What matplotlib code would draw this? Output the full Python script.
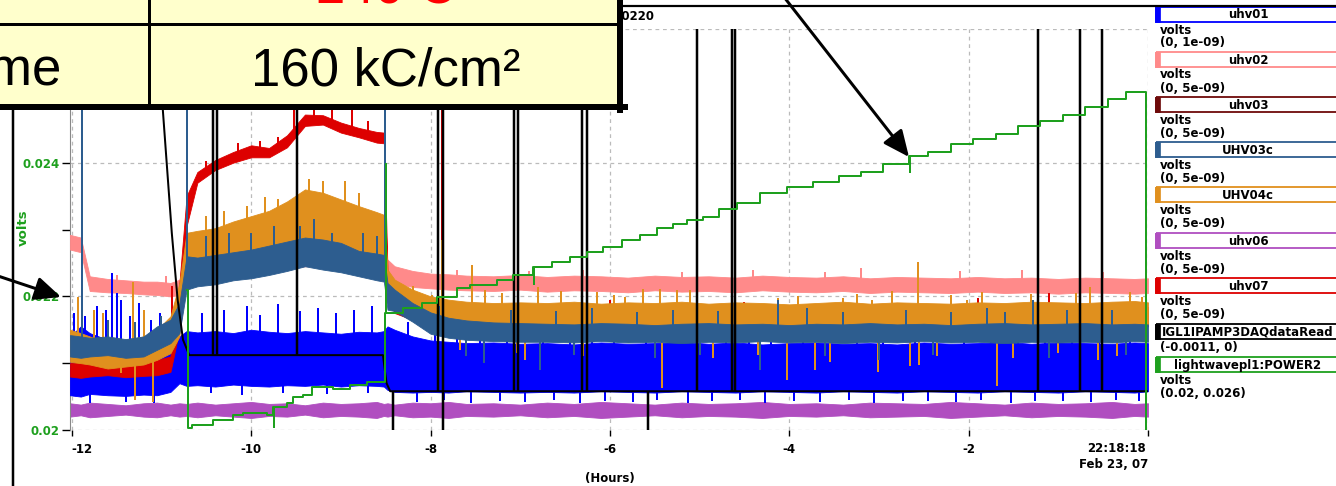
import numpy as np
import matplotlib
matplotlib.use("Agg")
import matplotlib.pyplot as plt
from matplotlib.patches import Rectangle

plt.rcParams['font.family'] = ['Liberation Sans', 'DejaVu Sans']
plt.rcParams['axes.unicode_minus'] = False

W, H = 1336, 486

# hours before 22:18:18 Feb 23, 07 ; all signal levels in mV on the 0.02-0.026 V scale
t_band = [-12.02, -11.9, -11.8, -11.6, -11.4, -11.2, -11.05, -10.9, -10.8, -10.72,
          -10.6, -10.4, -10.2, -10.0, -9.8, -9.6, -9.4, -9.2, -9.0, -8.8,
          -8.6, -8.52, -8.48, -8.4, -8.2, -8.0, -7.8, -7.6, -7.3, -7.0,
          -6.7, -6.4, -6.1, -5.8, -5.5, -5.2, -4.9, -4.6, -4.3, -4.0,
          -3.7, -3.4, -3.1, -2.8, -2.5, -2.2, -1.9, -1.6, -1.3, -1.0,
          -0.7, -0.4, -0.15, 0.0]

uhv06_hi = [20.40, 20.38, 20.41, 20.39, 20.37, 20.40, 20.41, 20.38, 20.40, 20.39,
            20.41, 20.38, 20.40, 20.42, 20.39, 20.40, 20.37, 20.41, 20.39, 20.40,
            20.42, 20.39, 20.40, 20.38, 20.41, 20.40, 20.42, 20.39, 20.40, 20.38,
            20.41, 20.39, 20.42, 20.40, 20.38, 20.41, 20.39, 20.40, 20.42, 20.39,
            20.40, 20.38, 20.41, 20.40, 20.39, 20.42, 20.40, 20.38, 20.41, 20.39,
            20.40, 20.42, 20.39, 20.40]
uhv06_lo = [20.20, 20.22, 20.19, 20.21, 20.23, 20.20, 20.19, 20.22, 20.20, 20.21,
            20.19, 20.22, 20.20, 20.18, 20.21, 20.20, 20.23, 20.19, 20.21, 20.20,
            20.18, 20.21, 20.20, 20.22, 20.19, 20.20, 20.18, 20.21, 20.20, 20.22,
            20.19, 20.21, 20.18, 20.20, 20.22, 20.19, 20.21, 20.20, 20.18, 20.21,
            20.20, 20.22, 20.19, 20.20, 20.21, 20.18, 20.20, 20.22, 20.19, 20.21,
            20.20, 20.18, 20.21, 20.20]

uhv02_hi = [22.92, 22.88, 22.30, 22.26, 22.24, 22.22, 22.22, 22.20, 22.25, 22.55,
            22.58, 22.60, 22.62, 22.64, 22.66, 22.68, 22.70, 22.70, 22.68, 22.66,
            22.64, 22.62, 22.55, 22.45, 22.38, 22.34, 22.33, 22.31, 22.30, 22.32,
            22.29, 22.31, 22.30, 22.28, 22.31, 22.29, 22.30, 22.28, 22.31, 22.29,
            22.28, 22.30, 22.27, 22.29, 22.28, 22.27, 22.29, 22.27, 22.28, 22.26,
            22.28, 22.27, 22.26, 22.27]
uhv02_lo = [22.70, 22.66, 22.08, 22.06, 22.05, 22.03, 22.02, 22.00, 22.02, 22.30,
            22.33, 22.36, 22.38, 22.40, 22.41, 22.43, 22.45, 22.45, 22.43, 22.41,
            22.39, 22.38, 22.30, 22.20, 22.14, 22.12, 22.10, 22.09, 22.08, 22.10,
            22.07, 22.09, 22.08, 22.06, 22.09, 22.07, 22.08, 22.06, 22.09, 22.07,
            22.06, 22.08, 22.05, 22.07, 22.06, 22.05, 22.07, 22.05, 22.06, 22.04,
            22.06, 22.05, 22.04, 22.05]
uhv02_spk_t = [-11.89, -11.5, -10.95, -7.7, -6.9, -6.3, -5.2, -4.4, -3.6, -3.2, -2.1, -1.4, -0.5]
uhv02_spk_v = [26.0, 22.32, 22.30, 22.40, 22.38, 22.40, 22.37, 22.39, 22.36, 22.42, 22.38, 22.40, 22.37]

uhv01_hi = [21.40, 21.55, 21.45, 21.35, 21.30, 21.32, 21.38, 21.30, 21.40, 21.48,
            21.46, 21.48, 21.45, 21.50, 21.47, 21.45, 21.48, 21.46, 21.44, 21.47,
            21.46, 21.48, 21.55, 21.50, 21.40, 21.34, 21.32, 21.30, 21.31, 21.29,
            21.30, 21.28, 21.31, 21.29, 21.30, 21.32, 21.29, 21.31, 21.28, 21.30,
            21.31, 21.29, 21.30, 21.28, 21.31, 21.29, 21.30, 21.32, 21.29, 21.31,
            21.30, 21.29, 21.31, 21.30]
uhv01_lo = [20.52, 20.50, 20.54, 20.52, 20.51, 20.53, 20.52, 20.57, 20.70, 20.66,
            20.67, 20.65, 20.68, 20.66, 20.65, 20.67, 20.66, 20.68, 20.65, 20.67,
            20.66, 20.65, 20.60, 20.57, 20.56, 20.57, 20.56, 20.58, 20.57, 20.56,
            20.57, 20.56, 20.58, 20.57, 20.56, 20.58, 20.57, 20.56, 20.58, 20.57,
            20.56, 20.58, 20.57, 20.56, 20.58, 20.57, 20.56, 20.58, 20.57, 20.56,
            20.58, 20.57, 20.56, 20.58]
uhv01_spk_t = [-11.98, -11.93, -11.85, -11.72, -11.62, -11.55, -11.50, -11.45, -11.35, -11.25,
               -11.12, -11.02, -10.55, -10.30, -10.05, -9.90, -9.70, -9.45, -9.25, -9.05,
               -8.85, -8.65, -8.25, -7.95, -7.70, -7.45, -7.15, -6.75, -6.45, -6.20,
               -5.95, -5.60, -5.30, -5.00, -4.70, -4.45, -4.20, -3.85, -3.60, -3.25,
               -2.95, -2.60, -2.35, -2.05, -1.75, -1.45, -1.15, -0.85, -0.55, -0.20,
               -11.80, -11.40, -11.08, -10.45, -10.10, -9.65, -9.15, -8.70, -8.15, -7.85,
               -7.55, -7.22, -6.95, -6.62, -6.33, -6.05, -5.74, -5.47, -5.13, -4.86,
               -4.55, -4.27, -3.95, -3.66, -3.33, -3.05, -2.73, -2.45, -2.14, -1.86,
               -1.53, -1.26, -0.95, -0.64, -0.36, -0.10]
uhv01_spk_v = [21.75, 21.90, 21.70, 21.85, 21.80, 22.35, 22.05, 21.95, 21.70, 21.90,
               21.65, 21.75, 21.75, 21.80, 21.85, 21.72, 21.88, 21.78, 21.82, 21.75,
               21.80, 21.85, 21.62, 21.55, 21.50, 21.48, 21.52, 21.45, 21.50, 21.55,
               21.47, 21.52, 21.45, 21.50, 21.48, 21.55, 21.46, 21.50, 21.45, 21.52,
               21.48, 21.50, 21.45, 21.52, 21.48, 21.50, 21.46, 21.53, 21.47, 21.50,
               20.40, 20.42, 20.41, 20.55, 20.53, 20.56, 20.54, 20.55, 20.42, 20.45,
               20.41, 20.44, 20.42, 20.45, 20.41, 20.44, 20.42, 20.45, 20.41, 20.43,
               20.45, 20.41, 20.44, 20.42, 20.45, 20.41, 20.43, 20.44, 20.42, 20.45,
               20.41, 20.43, 20.44, 20.42, 20.45, 20.43]

uhv07_hi = [21.00, 21.02, 20.98, 21.02, 21.00, 21.03, 21.05, 21.10, 22.20, 23.50,
            23.86, 24.04, 24.16, 24.26, 24.22, 24.41, 24.72, 24.71, 24.60, 24.52,
            24.46, 24.45, 22.40, 22.10, 21.95, 21.85, 21.82, 21.80, 21.78, 21.80,
            21.79, 21.81, 21.78, 21.80, 21.82, 21.79, 21.81, 21.80, 21.78, 21.81,
            21.80, 21.82, 21.79, 21.81, 21.83, 21.80, 21.82, 21.84, 21.81, 21.83,
            21.84, 21.82, 21.85, 21.84]
uhv07_lo = [20.80, 20.78, 20.80, 20.82, 20.79, 20.81, 20.82, 20.87, 21.50, 23.05,
            23.70, 23.89, 24.00, 24.08, 24.08, 24.23, 24.55, 24.57, 24.45, 24.38,
            24.30, 24.29, 22.00, 21.75, 21.65, 21.55, 21.52, 21.50, 21.50, 21.52,
            21.51, 21.52, 21.50, 21.51, 21.53, 21.50, 21.52, 21.51, 21.50, 21.52,
            21.51, 21.53, 21.50, 21.52, 21.54, 21.51, 21.53, 21.55, 21.52, 21.54,
            21.55, 21.53, 21.56, 21.55]
uhv07_spk_t = [-10.88, -9.52, -8.88, -8.51, -7.87, -6.00, -4.50, -1.90, -1.10,
               -10.5, -10.15, -9.9, -9.7, -9.3, -9.1, -8.7]
uhv07_spk_v = [22.15, 26.0, 26.0, 26.0, 26.0, 21.95, 21.92, 21.98, 22.05,
               24.02, 24.30, 24.32, 24.38, 24.85, 24.80, 24.62]

uhv04c_hi = [21.50, 21.45, 21.40, 21.30, 21.35, 21.40, 21.50, 21.70, 22.20, 22.95,
             22.98, 23.02, 23.12, 23.20, 23.28, 23.42, 23.60, 23.55, 23.45, 23.35,
             23.26, 23.22, 22.40, 22.25, 22.10, 22.00, 21.95, 21.92, 21.90, 21.91,
             21.90, 21.92, 21.89, 21.91, 21.90, 21.92, 21.89, 21.91, 21.90, 21.88,
             21.90, 21.92, 21.89, 21.91, 21.90, 21.89, 21.91, 21.90, 21.92, 21.91,
             21.90, 21.92, 21.93, 21.91]
uhv04c_lo = [21.02, 21.00, 20.98, 20.92, 20.95, 20.98, 21.05, 21.15, 21.40, 22.45,
             22.48, 22.50, 22.55, 22.60, 22.64, 22.72, 22.80, 22.80, 22.74, 22.66,
             22.60, 22.58, 21.90, 21.80, 21.70, 21.62, 21.58, 21.56, 21.55, 21.56,
             21.56, 21.58, 21.55, 21.57, 21.56, 21.58, 21.55, 21.57, 21.56, 21.54,
             21.56, 21.58, 21.55, 21.57, 21.56, 21.55, 21.57, 21.56, 21.58, 21.57,
             21.56, 21.58, 21.59, 21.57]
uhv04c_spk_t = [-11.93, -11.75, -11.32, -11.30, -11.10, -10.50, -9.70, -9.35, -8.95, -8.51,
                -7.87, -7.67, -7.54, -7.39, -7.04, -6.80, -6.14, -5.83, -5.63, -5.44,
                -5.42, -5.11, -4.13, -4.02, -3.71, -3.69, -3.40, -3.08, -3.01, -2.65,
                -2.57, -2.55, -2.02, -1.68, -0.65, -0.56, -0.07,
                -11.65, -11.45, -11.2, -10.3, -10.05, -9.85, -9.2, -8.8, -8.2, -7.98,
                -7.2, -6.95, -6.55, -6.3, -5.95, -5.25, -4.85, -4.6, -4.35, -3.9,
                -3.55, -3.25, -2.85, -2.35, -2.2, -1.85, -1.5, -1.3, -1.0, -0.8, -0.35, -0.2]
uhv04c_spk_v = [21.99, 21.80, 22.21, 20.45, 20.42, 23.20, 23.45, 23.75, 23.72, 26.0,
                22.85, 21.20, 22.47, 22.09, 21.15, 22.14, 22.06, 21.99, 22.11, 22.11,
                20.63, 22.09, 21.97, 20.75, 20.90, 21.88, 21.97, 21.95, 20.87, 20.96,
                22.51, 20.98, 21.95, 20.66, 22.14, 21.05, 21.99,
                21.75, 20.85, 21.80, 23.28, 23.35, 23.48, 23.72, 23.55, 22.15, 22.02,
                22.05, 21.05, 22.08, 21.10, 22.02, 22.10, 21.08, 22.05, 21.12, 22.00,
                21.02, 22.04, 22.08, 21.10, 22.02, 22.06, 21.08, 22.03, 21.15, 22.05, 21.10, 22.07]

uhv03c_hi = [21.42, 21.40, 21.38, 21.40, 21.36, 21.40, 21.55, 21.65, 21.90, 22.60,
             22.58, 22.62, 22.66, 22.70, 22.76, 22.82, 22.88, 22.85, 22.80, 22.68,
             22.64, 22.62, 22.20, 22.10, 21.90, 21.76, 21.68, 21.64, 21.61, 21.60,
             21.59, 21.58, 21.60, 21.59, 21.57, 21.59, 21.60, 21.58, 21.59, 21.57,
             21.59, 21.58, 21.60, 21.58, 21.59, 21.57, 21.59, 21.60, 21.58, 21.59,
             21.60, 21.58, 21.59, 21.58]
uhv03c_lo = [21.10, 21.08, 21.10, 21.12, 21.08, 21.10, 21.20, 21.30, 21.45, 22.10,
             22.15, 22.18, 22.24, 22.27, 22.32, 22.38, 22.45, 22.40, 22.36, 22.30,
             22.24, 22.22, 21.80, 21.78, 21.62, 21.44, 21.38, 21.35, 21.33, 21.32,
             21.32, 21.31, 21.33, 21.31, 21.32, 21.30, 21.32, 21.31, 21.33, 21.31,
             21.32, 21.30, 21.32, 21.31, 21.33, 21.31, 21.32, 21.30, 21.32, 21.31,
             21.32, 21.31, 21.33, 21.32]
uhv03c_spk_t = [-11.89, -10.72, -8.51, -10.00, -9.46, -9.10, -11.60, -4.13, -1.59, -1.28,
                -6.78, -4.33, -7.40, -3.00,
                -10.5, -10.25, -9.75, -9.3, -8.75, -8.6, -11.3, -11.0,
                -7.9, -7.1, -6.6, -6.2, -5.7, -5.3, -4.8, -3.8, -3.4, -2.7, -2.2, -1.8, -0.9, -0.4,
                -7.6, -6.4, -5.5, -5.0, -3.6, -2.4, -1.1, -0.25]
uhv03c_spk_v = [26.0, 26.0, 26.0, 22.95, 23.05, 22.95, 21.65, 21.95, 21.77, 21.95,
                20.90, 20.90, 21.00, 21.05,
                22.90, 22.95, 23.05, 23.15, 22.95, 22.90, 21.62, 21.70,
                21.85, 21.80, 21.78, 21.82, 21.76, 21.80, 21.78, 21.82, 21.77, 21.80, 21.76, 21.82, 21.79, 21.80,
                21.10, 21.12, 21.08, 21.12, 21.10, 21.12, 21.08, 21.12]

# IGL1IPAMP3DAQdataRead
daq_t = [-12.02, -11.07, -10.985, -10.885, -10.82, -10.76, -10.69, -8.53, -8.51, -8.49, -8.45, 0.0]
daq_v = [27.5, 26.0, 24.79, 22.95, 21.95, 21.35, 21.12, 21.12, 20.90, 20.70, 20.58, 20.58]
daq_glitch_up = [-10.43, -10.38, -9.49, -7.92, -7.86, -7.07, -7.03, -6.31, -6.25, -5.03,
                 -4.64, -4.61, -1.23, -0.76, -0.51]
daq_glitch_down = [-8.42, -7.86, -5.58]

# lightwavepl1:POWER2
power_t = [-10.72, -10.70, -10.66, -10.43, -10.20, -10.09, -9.82, -9.76, -9.60, -9.53,
           -9.42, -9.32, -9.09, -8.90, -8.71, -8.51, -8.31, -8.10, -7.93, -7.71,
           -7.56, -7.26, -7.08, -6.86, -6.64, -6.45, -6.26, -6.08, -5.86, -5.66,
           -5.48, -5.30, -5.14, -4.96, -4.78, -4.58, -4.33, -4.03, -3.74, -3.45,
           -3.20, -2.95, -2.66, -2.45, -2.20, -1.95, -1.70, -1.45, -1.20, -0.95,
           -0.70, -0.45, -0.25, -0.02, 0.0]
power_v = [22.09, 20.03, 20.07, 20.15, 20.22, 20.25, 20.22, 20.34, 20.40, 20.49,
           20.52, 20.64, 20.61, 20.67, 20.72, 21.75, 21.82, 21.90, 21.99, 22.12,
           22.17, 22.24, 22.32, 22.44, 22.51, 22.59, 22.66, 22.74, 22.84, 22.92,
           23.02, 23.08, 23.14, 23.19, 23.30, 23.40, 23.55, 23.64, 23.71, 23.80,
           23.86, 23.98, 24.10, 24.16, 24.28, 24.35, 24.43, 24.55, 24.62, 24.72,
           24.84, 24.95, 25.05, 19.90, 19.90]
power_spk_t = [-9.75, -8.50, -6.85, -2.65]
power_spk_v = [20.03, 24.00, 22.17, 23.85]

x_ticks = [-12, -10, -8, -6, -4, -2, 0]
x_labels = ['-12', '-10', '-8', '-6', '-4', '-2', '']
y_ticks = [0.020, 0.022, 0.024, 0.026]
y_labels = ['0.02', '0.022', '0.024', '0.026']
y_minor = [0.021, 0.023, 0.025]

leg_names = ['uhv01', 'uhv02', 'uhv03', 'UHV03c', 'UHV04c', 'uhv06', 'uhv07',
             'IGL1IPAMP3DAQdataRead', 'lightwavepl1:POWER2']
leg_units = ['volts'] * 7 + [None, 'volts']
leg_ranges = ['(0, 1e-09)', '(0, 5e-09)', '(0, 5e-09)', '(0, 5e-09)', '(0, 5e-09)',
              '(0, 5e-09)', '(0, 5e-09)', '(-0.0011, 0)', '(0.02, 0.026)']

BLUE, PINK, DKRED, STEEL = '#0000FF', '#FF8A8A', '#6E0A0A', '#2D5D8F'
ORANGE, PURPLE, RED, GREEN = '#E0901E', '#B04EC0', '#DD0000', '#1EA01E'
leg_colors = [BLUE, PINK, DKRED, STEEL, ORANGE, PURPLE, RED, 'black', GREEN]


def pt(p):
    return p * 0.72


def band(ax, hi, lo, color, z, spk_t=None, spk_v=None):
    hi = np.array(hi) / 1000.0
    lo = np.array(lo) / 1000.0
    ax.fill_between(t_band, lo, hi, facecolor=color, edgecolor=color, lw=0.6, zorder=z)
    if spk_t:
        base = np.interp(spk_t, t_band, (hi + lo) / 2)
        ax.vlines(spk_t, base, np.array(spk_v) / 1000.0, colors=color, lw=pt(2), zorder=z)


fig = plt.figure(figsize=(W / 100, H / 100), dpi=100)
ax = fig.add_axes([70 / W, 1 - 430 / H, (1148 - 70) / W, (430 - 29) / H])
ax.set_xlim(-12.02, 0)
ax.set_ylim(0.020, 0.026)

band(ax, uhv06_hi, uhv06_lo, PURPLE, 2)
band(ax, uhv02_hi, uhv02_lo, PINK, 3, uhv02_spk_t, uhv02_spk_v)
band(ax, uhv01_hi, uhv01_lo, BLUE, 4, uhv01_spk_t, uhv01_spk_v)
band(ax, uhv07_hi, uhv07_lo, RED, 5, uhv07_spk_t, uhv07_spk_v)
band(ax, uhv04c_hi, uhv04c_lo, ORANGE, 6, uhv04c_spk_t, uhv04c_spk_v)
band(ax, uhv03c_hi, uhv03c_lo, STEEL, 7, uhv03c_spk_t, uhv03c_spk_v)

daq_v_V = np.array(daq_v) / 1000.0
ax.plot(daq_t, daq_v_V, color='black', lw=pt(2), zorder=8)
ax.vlines(daq_glitch_up, np.interp(daq_glitch_up, daq_t, daq_v_V), 0.0265,
          colors='black', lw=pt(2.5), zorder=8)
ax.vlines(daq_glitch_down, np.interp(daq_glitch_down, daq_t, daq_v_V), 0.0195,
          colors='black', lw=pt(2.5), zorder=8)

power_v_V = np.array(power_v) / 1000.0
ax.plot(power_t, power_v_V, drawstyle='steps-post', color=GREEN, lw=pt(2), zorder=9)
idx = np.searchsorted(power_t, power_spk_t, side='right') - 1
ax.vlines(power_spk_t, power_v_V[idx], np.array(power_spk_v) / 1000.0,
          colors=GREEN, lw=pt(2), zorder=9)

# axes styling
CHART_FONT = dict(family='DejaVu Sans', weight='bold', size=8.5)
for s in ax.spines.values():
    s.set_visible(False)
ax.spines['left'].set_visible(True)
ax.spines['left'].set_color('#888888')
ax.set_xticks(x_ticks)
ax.set_xticklabels(x_labels, fontdict=CHART_FONT)
ax.set_yticks(y_ticks)
ax.set_yticklabels(y_labels, fontdict=CHART_FONT)
ax.set_yticks(y_minor, minor=True)
ax.grid(True, which='major', color='#BBBBBB', ls=(0, (3, 3)), lw=0.9, zorder=0)
ax.set_axisbelow(True)
ax.tick_params(axis='x', length=pt(6), width=1, pad=5, colors='black')
ax.tick_params(axis='y', which='both', length=pt(8), width=1, pad=1.5,
               color='black', labelcolor=GREEN)
ax.get_xticklabels()[0].set_horizontalalignment('left')

# overlay in pixel coordinates
ov = fig.add_axes([0, 0, 1, 1])
ov.set_xlim(0, W)
ov.set_ylim(H, 0)
ov.axis('off')
ov.patch.set_alpha(0)

ov.text(23, 228, 'volts', rotation=90, color=GREEN, ha='center', va='center',
        fontdict=dict(CHART_FONT, size=9.5))
ov.text(610, 478, '(Hours)', ha='center', va='center', fontdict=CHART_FONT)
ov.text(1146, 448, '22:18:18', ha='right', va='center', fontdict=CHART_FONT)
ov.text(1148, 464, 'Feb 23, 07', ha='right', va='center', fontdict=CHART_FONT)
ov.plot([620, W], [6, 6], color='black', lw=pt(2.2))
ov.text(654, 17, '20070220', ha='right', va='center', zorder=1, fontdict=CHART_FONT)

# legend panel
leg_top = [7, 52, 97, 142, 187, 233, 278, 324, 357]
for i, name in enumerate(leg_names):
    top = leg_top[i]
    c = leg_colors[i]
    ov.add_patch(Rectangle((1156, top), 200, 15, fill=False, edgecolor=c, lw=1.3))
    ov.add_patch(Rectangle((1155, top), 5, 15, facecolor=c, edgecolor=c, lw=0.5))
    if len(name) > 20:
        ov.text(1162, top + 8, name, ha='left', va='center', fontdict=CHART_FONT)
    else:
        ov.text(1248, top + 8, name, ha='center', va='center', fontdict=CHART_FONT)
    y = top + 23
    if leg_units[i]:
        ov.text(1160, y, leg_units[i], ha='left', va='center', fontdict=CHART_FONT)
        y += 13
    ov.text(1160, y, leg_ranges[i], ha='left', va='center', fontdict=CHART_FONT)

# slide table overlay
ov.add_patch(Rectangle((0, 0), 620, 107, facecolor='#FFFFCC', edgecolor='none', zorder=10))
ov.plot([0, 620], [24.5, 24.5], color='black', lw=pt(3), zorder=11)
ov.plot([149, 149], [0, 107], color='black', lw=pt(3), zorder=11)
ov.plot([0, 625], [107, 107], color='black', lw=pt(6), zorder=11)
ov.plot([620, 620], [0, 110], color='black', lw=pt(6), zorder=11)
ov.plot([13, 13], [107, H], color='black', lw=pt(2.5), zorder=11)
ov.text(386, 3, '240 C', color='red', fontsize=38, ha='center', va='baseline', zorder=12)
ov.text(61, 85, 'Charge Lifetime', fontsize=38, ha='right', va='baseline', zorder=12)
ov.text(386, 85, '160 kC/cm\u00b2', fontsize=38, ha='center', va='baseline', zorder=12)

arrow = dict(arrowstyle='-|>,head_length=1.0,head_width=0.45', color='black',
             lw=pt(3), mutation_scale=16, shrinkA=0, shrinkB=0)
ov.annotate('', xy=(909, 157), xytext=(784, -3), arrowprops=arrow, zorder=13)
ov.annotate('', xy=(61, 297), xytext=(-2, 276), arrowprops=arrow, zorder=13)

fig.savefig('out.png', dpi=100)
